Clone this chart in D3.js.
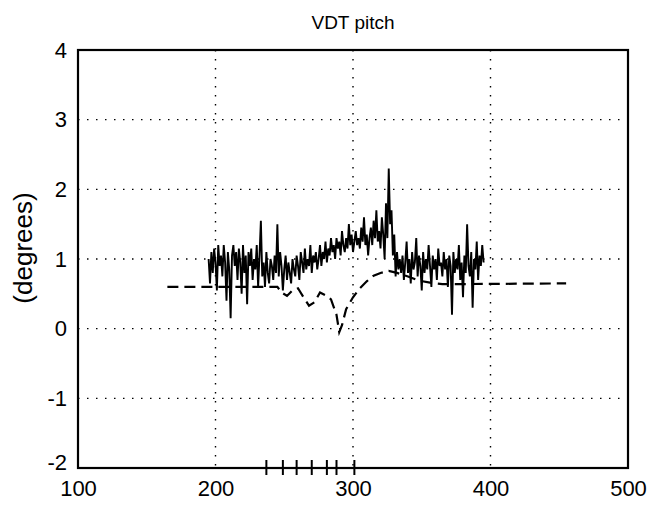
<!DOCTYPE html>
<html><head><meta charset="utf-8">
<script src="https://cdn.jsdelivr.net/npm/d3@7"></script>
<style>body{margin:0;background:#fff}svg{display:block}</style>
</head><body>
<script>
const title = "VDT pitch";
const yLabel = "(degrees)";
const xTicks = [100, 200, 300, 400, 500];
const yTicks = [-2, -1, 0, 1, 2, 3, 4];
const solidStart = 195;
const solidValues = [
 1.0,0.65,1.1,0.8,1.15,0.95,0.55,1.2,0.9,1.05,
 0.75,1.2,0.95,0.4,1.1,0.85,0.15,1.05,1.2,0.9,
 1.1,0.7,1.15,0.95,0.5,1.2,0.8,1.05,0.35,1.1,
 0.9,1.15,0.7,1.0,0.85,1.2,0.6,1.05,1.55,0.75,
 0.95,0.6,1.1,0.8,0.65,1.0,0.9,0.7,1.05,0.8,
 1.5,0.75,1.1,0.9,0.55,0.85,1.05,0.7,0.95,0.8,
 0.65,1.0,0.85,0.75,1.05,0.9,0.7,1.1,0.95,0.8,
 1.15,0.85,1.0,0.9,1.2,0.8,1.05,0.95,1.1,0.85,
 1.0,1.2,0.9,1.1,1.0,1.25,0.95,1.15,1.05,1.3,
 1.1,1.2,1.0,1.3,1.15,1.25,1.05,1.4,1.2,1.1,
 1.3,1.15,1.5,1.2,1.35,1.1,1.25,1.4,1.2,1.3,
 1.15,1.45,1.25,1.6,1.2,1.35,1.05,1.3,1.45,1.2,
 1.55,1.3,1.7,1.25,1.4,1.15,1.6,1.35,1.0,1.8,
 1.3,2.3,1.5,1.7,1.05,1.35,0.75,1.1,0.85,1.0,
 0.8,1.05,0.7,0.95,1.25,0.8,1.0,0.65,1.1,0.85,
 0.95,1.3,0.75,1.05,0.9,0.55,1.1,0.8,1.0,0.85,
 1.2,0.9,0.6,1.05,0.85,1.0,0.7,1.15,0.9,0.95,
 0.75,1.1,0.85,1.0,0.6,1.05,0.9,0.2,1.1,0.8,
 1.0,0.85,1.2,0.7,0.95,0.45,1.05,0.8,1.5,0.9,
 0.75,1.1,0.3,1.0,0.85,1.25,0.7,1.05,0.9,1.2,
 0.95];
const dashX = [165,245,248,252,256,260,264,268,272,276,280,284,288,290,292,295,300,305,310,315,320,326,332,340,348,356,365,380,455];
const dashY = [0.6,0.6,0.52,0.47,0.55,0.58,0.45,0.33,0.38,0.52,0.48,0.42,0.2,-0.05,0.05,0.28,0.45,0.58,0.68,0.76,0.8,0.83,0.8,0.75,0.69,0.66,0.64,0.64,0.65];
const eventX = [237,249,259,270,281,288,301];

const W=656,H=510;
const m={l:78,r:28,t:50,b:42};
const svg=d3.select("body").append("svg").attr("width",W).attr("height",H);
const x=d3.scaleLinear().domain([100,500]).range([m.l,W-m.r]);
const y=d3.scaleLinear().domain([-2,4]).range([H-m.b,m.t]);
const font="'Liberation Sans', Arial, sans-serif";

// grid
const g=svg.append("g");
g.selectAll(".gx").data(xTicks.filter(v=>v>100&&v<500)).join("line")
 .attr("x1",d=>x(d)).attr("x2",d=>x(d)).attr("y1",m.t).attr("y2",H-m.b)
 .attr("stroke","#000").attr("stroke-width",1.4).attr("stroke-dasharray","1.5,7.5");
g.selectAll(".gy").data(yTicks.filter(v=>v>-2&&v<4)).join("line")
 .attr("y1",d=>y(d)).attr("y2",d=>y(d)).attr("x1",m.l).attr("x2",W-m.r)
 .attr("stroke","#000").attr("stroke-width",1.4).attr("stroke-dasharray","1.5,7.5");

// axes
const xa=svg.append("g").attr("transform",`translate(0,${H-m.b})`)
 .call(d3.axisBottom(x).tickValues(xTicks).tickSize(0).tickPadding(12));
const ya=svg.append("g").attr("transform",`translate(${m.l},0)`)
 .call(d3.axisLeft(y).tickValues(yTicks).tickSize(0).tickPadding(11).tickFormat(d=>d<0?"-"+Math.abs(d):d));
[xa,ya].forEach(a=>{a.select(".domain").remove();a.selectAll("text").attr("font-family",font).attr("font-size",22).attr("fill","#000");});
xa.selectAll("text").attr("dy","0.72em");
ya.selectAll(".tick").filter(d=>d===-2).select("text").attr("dy","0.05em");

// frame
svg.append("rect").attr("x",m.l).attr("y",m.t).attr("width",W-m.l-m.r).attr("height",H-m.t-m.b)
 .attr("fill","none").attr("stroke","#000").attr("stroke-width",2.2);

// dashed line
const dash=dashX.map((v,i)=>[v,dashY[i]]);
svg.append("path").datum(dash).attr("fill","none").attr("stroke","#000").attr("stroke-width",2.2)
 .attr("stroke-dasharray","11,6")
 .attr("d",d3.line().x(d=>x(d[0])).y(d=>y(d[1])));

// solid line
const solid=solidValues.map((v,i)=>[solidStart+i,v]);
svg.append("path").datum(solid).attr("fill","none").attr("stroke","#000").attr("stroke-width",1.9)
 .attr("d",d3.line().x(d=>x(d[0])).y(d=>y(d[1])));

// event markers
svg.selectAll(".ev").data(eventX).join("line")
 .attr("x1",d=>x(d)).attr("x2",d=>x(d)).attr("y1",H-m.b-8).attr("y2",H-m.b+7)
 .attr("stroke","#000").attr("stroke-width",2);

// title & label
svg.append("text").attr("x",(m.l+W-m.r)/2).attr("y",29).attr("text-anchor","middle")
 .attr("font-family",font).attr("font-size",19).text(title);
svg.append("text").attr("transform",`translate(32,248) rotate(-90)`).attr("text-anchor","middle")
 .attr("font-family",font).attr("font-size",26).text(yLabel);
</script>
</body></html>
